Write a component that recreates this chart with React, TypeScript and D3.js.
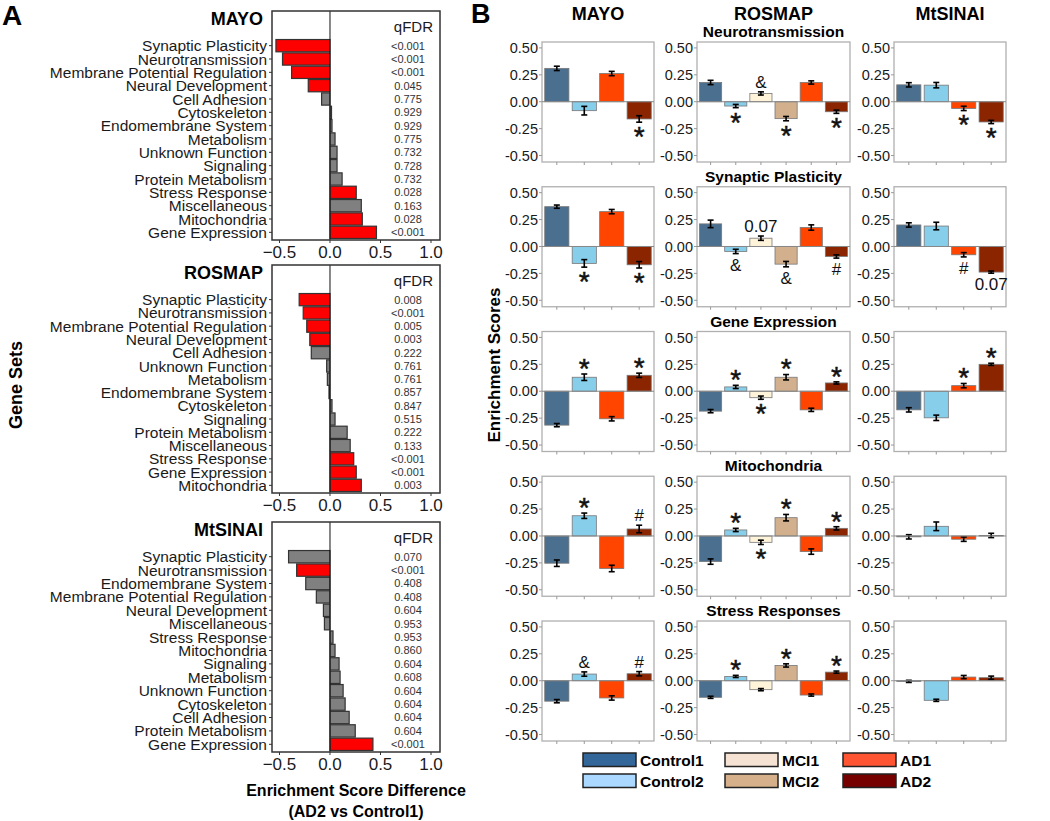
import React from 'react'
import * as d3 from 'd3'

const FONT = 'Liberation Sans, Arial, Helvetica, sans-serif'

// ---- panel A: enrichment score difference, AD2 vs Control1 ----
const mayoSets = ['Synaptic Plasticity', 'Neurotransmission', 'Membrane Potential Regulation', 'Neural Development', 'Cell Adhesion', 'Cytoskeleton', 'Endomembrane System', 'Metabolism', 'Unknown Function', 'Signaling', 'Protein Metabolism', 'Stress Response', 'Miscellaneous', 'Mitochondria', 'Gene Expression']
const mayoDiff = [-0.535, -0.47, -0.38, -0.215, -0.083, 0.015, 0.02, 0.05, 0.07, 0.07, 0.12, 0.26, 0.31, 0.32, 0.46]
const mayoQ = ['<0.001', '<0.001', '<0.001', '0.045', '0.775', '0.929', '0.929', '0.775', '0.732', '0.728', '0.732', '0.028', '0.163', '0.028', '<0.001']

const rosmapSets = ['Synaptic Plasticity', 'Neurotransmission', 'Membrane Potential Regulation', 'Neural Development', 'Cell Adhesion', 'Unknown Function', 'Metabolism', 'Endomembrane System', 'Cytoskeleton', 'Signaling', 'Protein Metabolism', 'Miscellaneous', 'Stress Response', 'Gene Expression', 'Mitochondria']
const rosmapDiff = [-0.305, -0.265, -0.23, -0.2, -0.185, -0.033, -0.026, -0.01, 0.02, 0.05, 0.17, 0.2, 0.235, 0.26, 0.31]
const rosmapQ = ['0.008', '<0.001', '0.005', '0.003', '0.222', '0.761', '0.761', '0.857', '0.847', '0.515', '0.222', '0.133', '<0.001', '<0.001', '0.003']

const sinaiSets = ['Synaptic Plasticity', 'Neurotransmission', 'Endomembrane System', 'Membrane Potential Regulation', 'Neural Development', 'Miscellaneous', 'Stress Response', 'Mitochondria', 'Signaling', 'Metabolism', 'Unknown Function', 'Cytoskeleton', 'Cell Adhesion', 'Protein Metabolism', 'Gene Expression']
const sinaiDiff = [-0.41, -0.33, -0.24, -0.135, -0.065, -0.055, 0.03, 0.05, 0.09, 0.1, 0.13, 0.15, 0.19, 0.25, 0.425]
const sinaiQ = ['0.070', '<0.001', '0.408', '0.408', '0.604', '0.953', '0.953', '0.860', '0.604', '0.608', '0.604', '0.604', '0.604', '0.604', '<0.001']

const diffTicks = [-0.5, 0, 0.5, 1.0]

// ---- panel B: enrichment scores per group ----
const groups4 = ['Control1', 'Control2', 'AD1', 'AD2']
const groups6 = ['Control1', 'Control2', 'MCI1', 'MCI2', 'AD1', 'AD2']
const rowTitles = ['Neurotransmission', 'Synaptic Plasticity', 'Gene Expression', 'Mitochondria', 'Stress Responses']
const scoreTicks = [0.5, 0.25, 0, -0.25, -0.5]

const mayoMeans = [
  [0.31, -0.083, 0.262, -0.16],
  [0.37, -0.157, 0.324, -0.17],
  [-0.315, 0.13, -0.256, 0.148],
  [-0.253, 0.188, -0.302, 0.065],
  [-0.19, 0.062, -0.16, 0.065],
]
const mayoErr = [
  [0.02, 0.04, 0.02, 0.03],
  [0.015, 0.035, 0.02, 0.03],
  [0.015, 0.03, 0.02, 0.02],
  [0.03, 0.025, 0.03, 0.035],
  [0.015, 0.02, 0.02, 0.02],
]
const mayoMarks = [
  ['', '', '', '*'],
  ['', '*', '', '*'],
  ['', '*', '', '*'],
  ['', '*', '', '#'],
  ['', '&', '', '#'],
]

const rosmapMeans = [
  [0.179, -0.04, 0.077, -0.157, 0.179, -0.093],
  [0.21, -0.046, 0.077, -0.164, 0.176, -0.093],
  [-0.185, 0.04, -0.06, 0.13, -0.173, 0.077],
  [-0.238, 0.056, -0.059, 0.17, -0.145, 0.071],
  [-0.154, 0.04, -0.083, 0.142, -0.133, 0.08],
]
const rosmapErr = [
  [0.02, 0.015, 0.015, 0.02, 0.015, 0.015],
  [0.035, 0.02, 0.02, 0.025, 0.025, 0.015],
  [0.015, 0.015, 0.015, 0.025, 0.015, 0.01],
  [0.025, 0.015, 0.02, 0.03, 0.025, 0.015],
  [0.01, 0.01, 0.01, 0.015, 0.01, 0.01],
]
const rosmapMarks = [
  ['', '*', '&', '*', '', '*'],
  ['', '&', '0.07', '&', '', '#'],
  ['', '*', '*', '*', '', '*'],
  ['', '*', '*', '*', '', '*'],
  ['', '*', '', '*', '', '*'],
]

const sinaiMeans = [
  [0.157, 0.154, -0.062, -0.188],
  [0.2, 0.19, -0.077, -0.238],
  [-0.173, -0.247, 0.052, 0.25],
  [-0.008, 0.09, -0.03, 0.005],
  [-0.006, -0.182, 0.034, 0.028],
]
const sinaiErr = [
  [0.02, 0.025, 0.02, 0.015],
  [0.02, 0.035, 0.02, 0.01],
  [0.02, 0.025, 0.02, 0.01],
  [0.02, 0.04, 0.02, 0.02],
  [0.01, 0.01, 0.015, 0.015],
]
const sinaiMarks = [
  ['', '', '*', '*'],
  ['', '', '#', '0.07'],
  ['', '', '*', '*'],
  ['', '', '', ''],
  ['', '', '', ''],
]

const barColors: Record<string, string> = {
  Control1: '#4b6f8f', Control2: '#87ceeb', MCI1: '#fff4da',
  MCI2: '#d2b08e', AD1: '#ff4500', AD2: '#8b2500',
}
const legendColors: Record<string, string> = {
  Control1: '#336699', Control2: '#aad8ff', MCI1: '#f6e2d3',
  MCI2: '#d5b08a', AD1: '#ff5533', AD2: '#760000',
}
const legendCols = [['Control1', 'Control2'], ['MCI1', 'MCI2'], ['AD1', 'AD2']]

const isSig = (q: string) => q.startsWith('<') || parseFloat(q) < 0.05

function DiffPanel({ name, sets, diff, q, top, bottom }: any) {
  const left = 272, right = 440
  const x = d3.scaleLinear().domain([-0.574, 1.089]).range([left, right])
  const y = d3.scaleBand<string>().domain(sets).range([top + 28, bottom - 1]).paddingInner(0.08).paddingOuter(0.04)
  const fmt = d3.format('.1f')
  return (
    <g>
      <text x={263} y={top + 14} textAnchor="end" fontSize={18} fontWeight="bold">{name}</text>
      {sets.map((s: string, i: number) => {
        const v = diff[i]
        const cy = y(s)! + y.bandwidth() / 2
        return (
          <g key={s}>
            <rect x={x(Math.min(0, v))} y={y(s)} width={Math.abs(x(v) - x(0))} height={y.bandwidth()}
              fill={isSig(q[i]) ? '#ff0000' : '#808080'} stroke="#333" strokeWidth={1.2} />
            <line x1={left - 3} x2={left} y1={cy} y2={cy} stroke="#333" />
            <text x={left - 5} y={cy} dy="0.36em" textAnchor="end" fontSize={15.5} fill="#1a1a1a">{s}</text>
            <text x={408} y={cy} dy="0.36em" textAnchor="middle" fontSize={11} fill="#333">{q[i]}</text>
          </g>
        )
      })}
      <text x={433} y={top + 21} textAnchor="end" fontSize={15} fill="#1a1a1a">qFDR</text>
      <line x1={x(0)} x2={x(0)} y1={top} y2={bottom} stroke="#111" strokeWidth={1} />
      <rect x={left} y={top} width={right - left} height={bottom - top} fill="none" stroke="#333" strokeWidth={1.5} />
      {diffTicks.map(t => (
        <g key={t}>
          <line x1={x(t)} x2={x(t)} y1={bottom} y2={bottom + 3} stroke="#333" />
          <text x={x(t)} y={bottom + 18} textAnchor="middle" fontSize={17} fill="#1a1a1a">{fmt(t)}</text>
        </g>
      ))}
    </g>
  )
}

function ScorePanel({ groups, means, errs, marks, left, right, top }: any) {
  const height = 120
  const x = d3.scaleBand<string>().domain(groups).range([left, right]).paddingInner(0.12).paddingOuter(0.1)
  const y = d3.scaleLinear().domain([-0.56, 0.555]).range([top + height, top])
  const fmt = (v: number) => d3.format('.2f')(v).replace('\u2212', '-')
  const bw = x.bandwidth()
  return (
    <g>
      <rect x={left} y={top} width={right - left} height={height} fill="#fff" stroke="#b0b0b0" strokeWidth={1.3} />
      {scoreTicks.map(t => (
        <g key={t}>
          <line x1={left - 3} x2={left} y1={y(t)} y2={y(t)} stroke="#999" />
          <text x={left - 4} y={y(t)} dy="0.36em" textAnchor="end" fontSize={14.5} fill="#1a1a1a">{fmt(t)}</text>
        </g>
      ))}
      {groups.map((g: string, i: number) => {
        const m = means[i], e = errs[i], cx = x(g)! + bw / 2
        const mark = marks[i]
        let markEl = null
        if (mark === '*') {
          const fs = 28
          const center = m >= 0 ? y(m + e) - 9 : y(m - e) + 11
          markEl = <text x={cx} y={center + 0.46 * fs} textAnchor="middle" fontSize={fs} fill="#111" stroke="#111" strokeWidth={0.5}>*</text>
        } else if (mark) {
          const fs = 17
          const base = m >= 0 ? y(m + e) - 4 : y(m - e) + 5 + 0.716 * fs
          markEl = <text x={cx} y={base} textAnchor="middle" fontSize={fs} fill="#111">{mark}</text>
        }
        return (
          <g key={g}>
            <rect x={x(g)} y={y(Math.max(0, m))} width={bw} height={Math.abs(y(m) - y(0))}
              fill={barColors[g]} stroke="#777" strokeWidth={0.8} />
            <line x1={cx} x2={cx} y1={y(m - e)} y2={y(m + e)} stroke="#000" strokeWidth={1.6} />
            <line x1={cx - 3} x2={cx + 3} y1={y(m - e)} y2={y(m - e)} stroke="#000" strokeWidth={1.6} />
            <line x1={cx - 3} x2={cx + 3} y1={y(m + e)} y2={y(m + e)} stroke="#000" strokeWidth={1.6} />
            <line x1={cx} x2={cx} y1={top + height} y2={top + height + 3} stroke="#999" />
            {markEl}
          </g>
        )
      })}
      <line x1={left} x2={right} y1={y(0)} y2={y(0)} stroke="#888" strokeWidth={1} />
    </g>
  )
}

export default function App() {
  const cohortsA = [
    { name: 'MAYO', sets: mayoSets, diff: mayoDiff, q: mayoQ, top: 11, bottom: 240 },
    { name: 'ROSMAP', sets: rosmapSets, diff: rosmapDiff, q: rosmapQ, top: 265, bottom: 493 },
    { name: 'MtSINAI', sets: sinaiSets, diff: sinaiDiff, q: sinaiQ, top: 522, bottom: 752 },
  ]
  const cohortsB = [
    { name: 'MAYO', groups: groups4, means: mayoMeans, errs: mayoErr, marks: mayoMarks, left: 542, right: 654 },
    { name: 'ROSMAP', groups: groups6, means: rosmapMeans, errs: rosmapErr, marks: rosmapMarks, left: 697, right: 850 },
    { name: 'MtSINAI', groups: groups4, means: sinaiMeans, errs: sinaiErr, marks: sinaiMarks, left: 894, right: 1006 },
  ]
  const rowTop = (i: number) => 42 + i * 144.75

  return (
    <svg width={1050} height={821} fontFamily={FONT} style={{ position: 'absolute', left: 0, top: 0, background: '#fff' }}>
      <rect width={1050} height={821} fill="#fff" />
      <text x={2} y={25} fontSize={28} fontWeight="bold">A</text>
      <text x={471} y={23} fontSize={27} fontWeight="bold">B</text>

      {cohortsA.map(c => <DiffPanel key={c.name} {...c} />)}
      <text transform="translate(22,385) rotate(-90)" textAnchor="middle" fontSize={18} fontWeight="bold">Gene Sets</text>
      <text x={356} y={796} textAnchor="middle" fontSize={16} fontWeight="bold">Enrichment Score Difference</text>
      <text x={356} y={817} textAnchor="middle" fontSize={16} fontWeight="bold">(AD2 vs Control1)</text>

      {cohortsB.map(c => (
        <text key={c.name} x={(c.left + c.right) / 2} y={20} textAnchor="middle" fontSize={18} fontWeight="bold">{c.name}</text>
      ))}
      {rowTitles.map((t, r) => (
        <g key={t}>
          <text x={773.5} y={rowTop(r) - 5} textAnchor="middle" fontSize={15.5} fontWeight="bold">{t}</text>
          {cohortsB.map(c => (
            <ScorePanel key={c.name} groups={c.groups} means={c.means[r]} errs={c.errs[r]} marks={c.marks[r]}
              left={c.left} right={c.right} top={rowTop(r)} />
          ))}
        </g>
      ))}
      <text transform="translate(500,365) rotate(-90)" textAnchor="middle" fontSize={17} fontWeight="bold">Enrichment Scores</text>

      {legendCols.map((col, ci) => {
        const lx = [583, 725, 843][ci]
        return col.map((g, ri) => (
          <g key={g}>
            <rect x={lx} y={753 + ri * 21} width={53} height={13.5} fill={legendColors[g]} stroke="#222" strokeWidth={1.5} />
            <text x={lx + 57} y={753 + ri * 21 + 13} fontSize={15.5} fontWeight="bold">{g}</text>
          </g>
        ))
      })}
    </svg>
  )
}
